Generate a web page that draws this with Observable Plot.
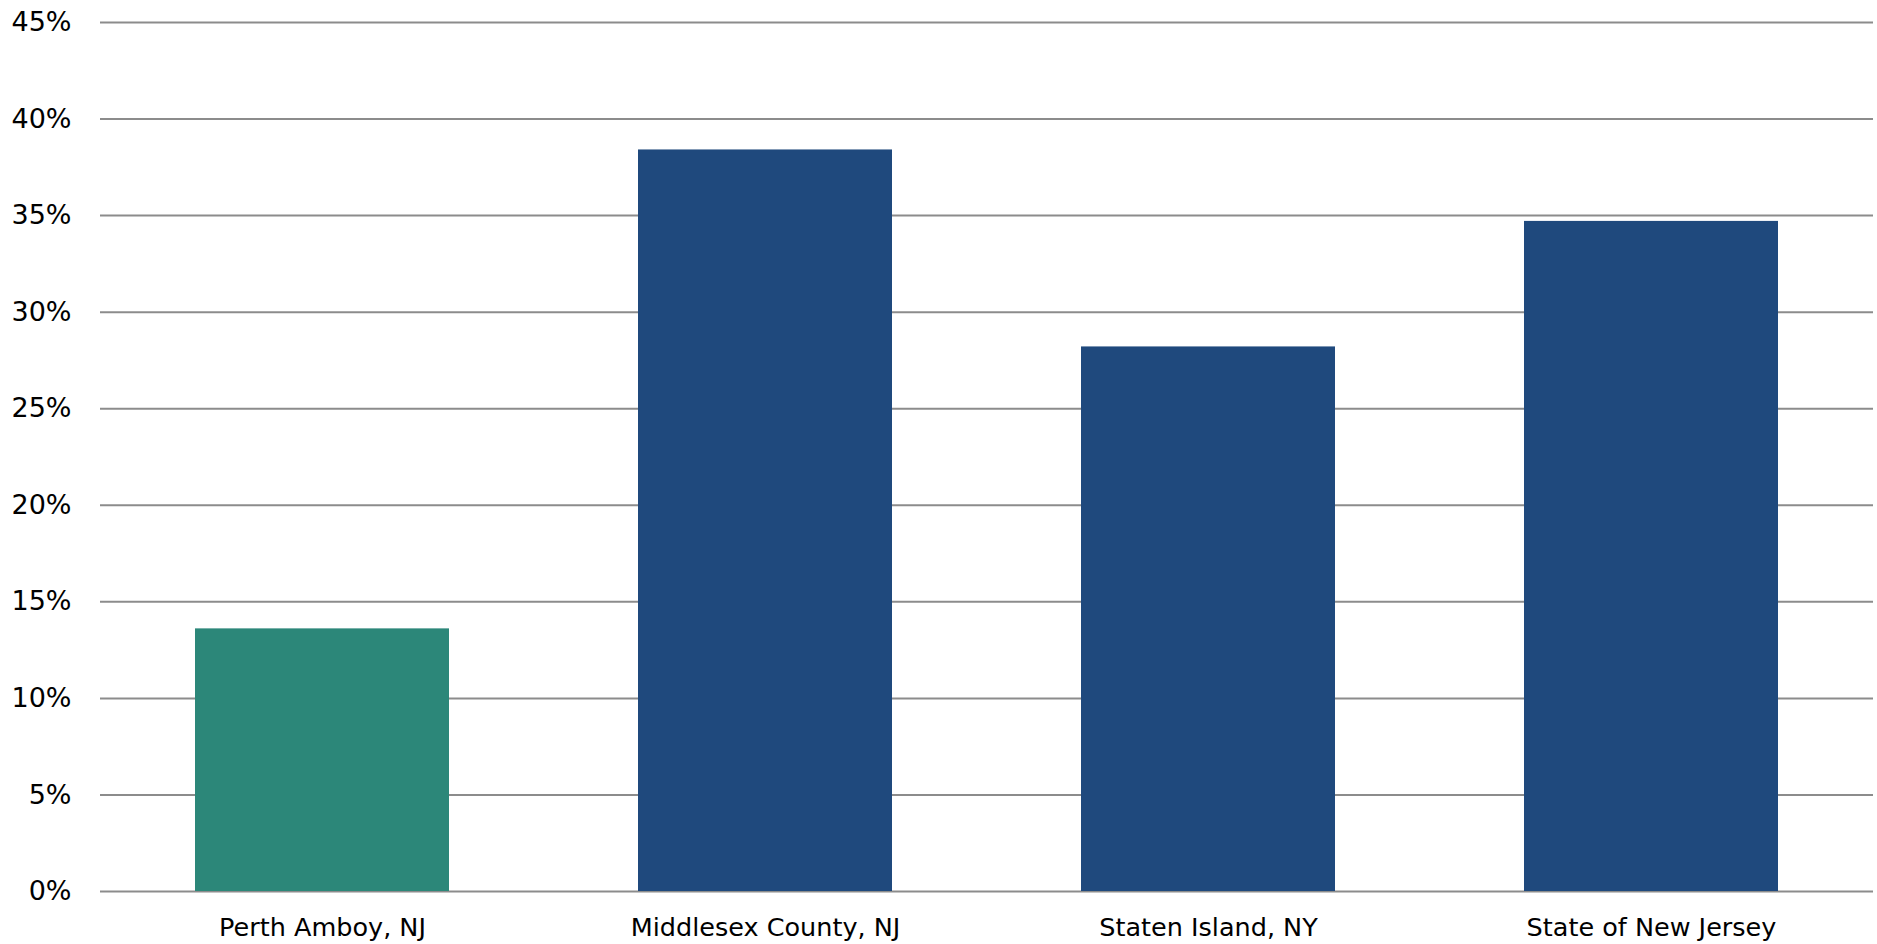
<!DOCTYPE html>
<html>
<head>
<meta charset="utf-8">
<script src="https://cdn.jsdelivr.net/npm/d3@7"></script>
<script src="https://cdn.jsdelivr.net/npm/@observablehq/plot@0.6"></script>
<style>
  html, body { margin: 0; padding: 0; background: #fff; }
  #chart svg { display: block; }
</style>
</head>
<body>
<div id="chart"></div>
<script>
const categories = ["Perth Amboy, NJ", "Middlesex County, NJ", "Staten Island, NY", "State of New Jersey"];
const values = [13.6, 38.4, 28.2, 34.7];
const colors = ["#2C8779", "#1F497D", "#1F497D", "#1F497D"];
const yTicks = [0, 5, 10, 15, 20, 25, 30, 35, 40, 45];

const data = categories.map((c, i) => ({category: c, value: values[i], color: colors[i]}));

const chart = Plot.plot({
  width: 1877,
  height: 944,
  marginLeft: 100,
  marginRight: 4,
  marginTop: 22,
  marginBottom: 53,
  style: {fontFamily: "'DejaVu Sans', sans-serif", background: "#fff", color: "#000"},
  x: {domain: categories, paddingInner: 0.427, paddingOuter: 0.2135, label: null},
  y: {domain: [0, 45], label: null},
  marks: [
    Plot.ruleY(yTicks, {stroke: "#8c8c8c", strokeWidth: 2, strokeOpacity: 1}),
    Plot.barY(data, {x: "category", y: "value", fill: "color"}),
    Plot.axisY(yTicks, {tickSize: 0, tickPadding: 29, tickFormat: d => d + "%", fontSize: 27, label: null}),
    Plot.axisX({tickSize: 0, tickPadding: 26, fontSize: 25.5, label: null})
  ]
});
document.getElementById("chart").appendChild(chart);
</script>
</body>
</html>
